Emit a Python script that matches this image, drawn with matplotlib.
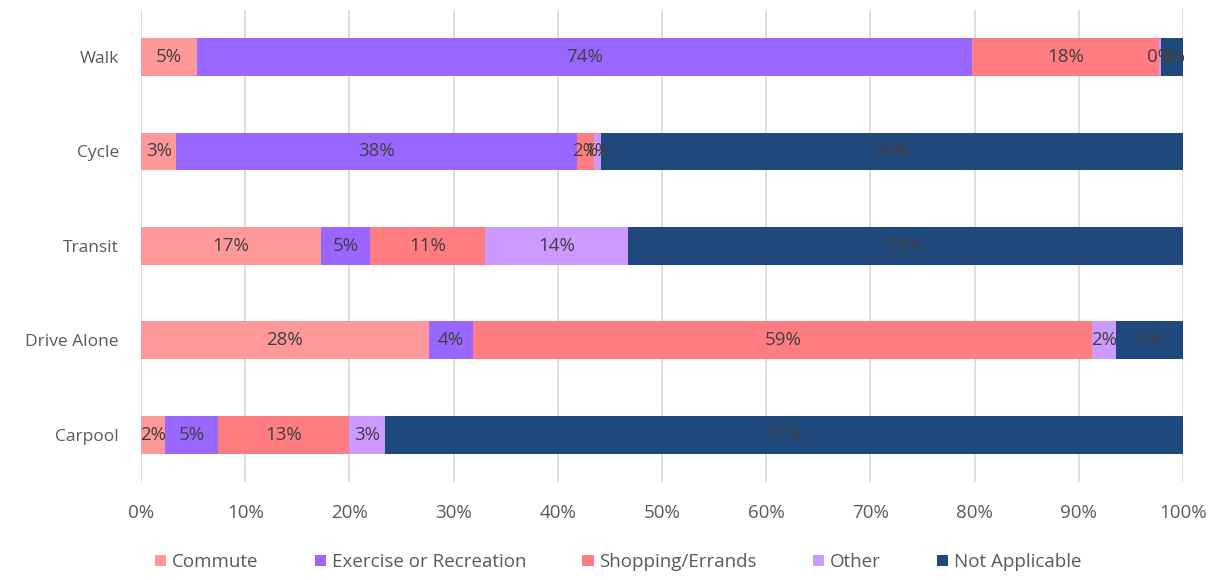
import matplotlib.pyplot as plt
import numpy as np

plt.rcParams['font.family'] = ['Open Sans', 'DejaVu Sans']

modes = ["Walk", "Cycle", "Transit", "Drive Alone", "Carpool"]
purposes = ["Commute", "Exercise or Recreation", "Shopping/Errands", "Other", "Not Applicable"]
commute = [5.4, 3.4, 17.3, 27.6, 2.3]
exercise = [74.3, 38.4, 4.7, 4.3, 5.1]
shopping = [18.0, 1.7, 11.0, 59.4, 12.6]
other = [0.2, 0.6, 13.7, 2.3, 3.4]
not_applicable = [2.1, 55.9, 53.3, 6.4, 76.6]
colors = ["#FF9999", "#9966FF", "#FF7C80", "#CC99FF", "#1F497D"]

series = [commute, exercise, shopping, other, not_applicable]

fig = plt.figure(figsize=(12.17, 5.8), dpi=100)
ax = fig.add_axes([0.1159, 0.169, 0.8562, 0.814])

y = np.arange(len(modes))
left = np.zeros(len(modes))
for vals, name, col in zip(series, purposes, colors):
    vals = np.array(vals)
    ax.barh(y, vals, left=left, height=0.4, color=col, label=name, zorder=2)
    for yi, l, v in zip(y, left, vals):
        ax.text(l + v / 2, yi, "%d%%" % round(v), ha="center", va="center",
                fontsize=13.5, color="#404040", zorder=3)
    left = left + vals

ax.set_xlim(0, 100)
ax.set_ylim(len(modes) - 0.5, -0.5)
ax.set_yticks(y)
ax.set_yticklabels(modes)
ax.set_xticks(np.arange(0, 101, 10))
ax.set_xticklabels(["%d%%" % t for t in range(0, 101, 10)])
ax.tick_params(axis="both", length=0, labelcolor="#595959")
ax.tick_params(axis="x", pad=16, labelsize=13.5)
ax.tick_params(axis="y", pad=16, labelsize=12.5)
ax.grid(axis="x", color="#D9D9D9", linewidth=1.2, zorder=0)
for s in ax.spines.values():
    s.set_visible(False)

ax.legend(loc="upper center", bbox_to_anchor=(0.458, -0.115), ncol=5, frameon=False,
          fontsize=13.5, handlelength=0.6, handleheight=0.6, handletextpad=0.3,
          columnspacing=3.0, labelcolor="#595959")

fig.savefig("out.png", dpi=100)
